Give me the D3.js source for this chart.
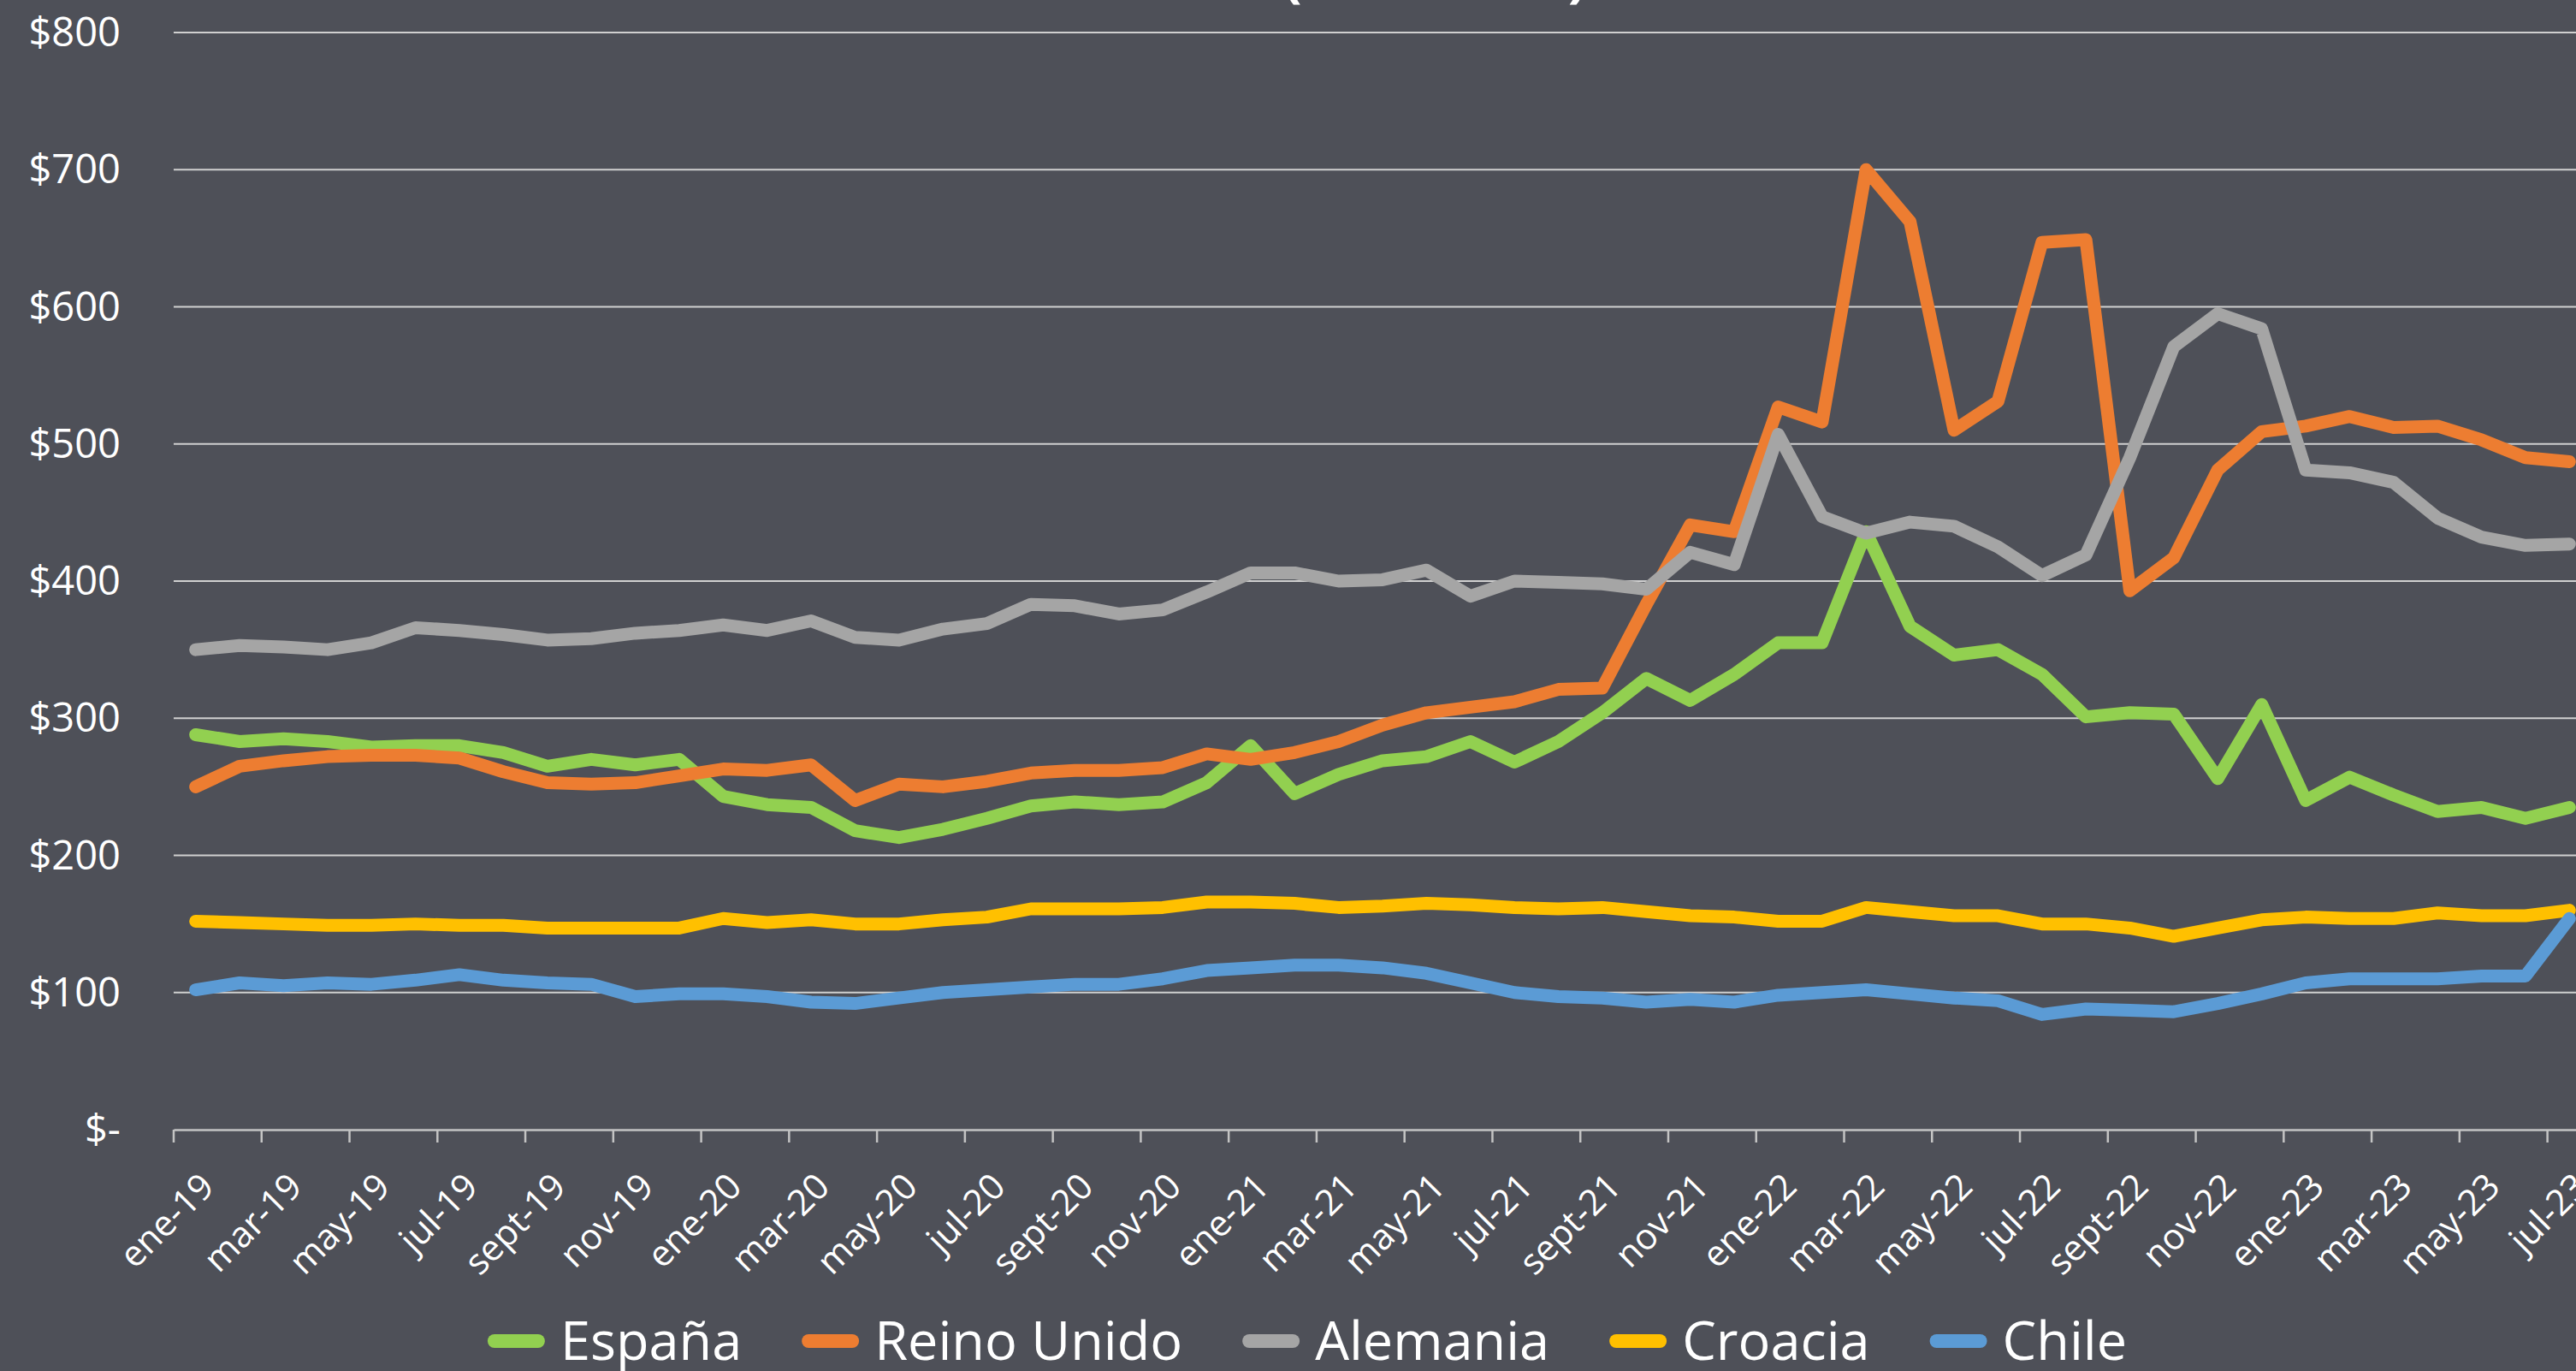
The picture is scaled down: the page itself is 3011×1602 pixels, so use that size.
<!DOCTYPE html>
<html>
<head>
<meta charset="utf-8">
<script src="https://cdn.jsdelivr.net/npm/d3@7"></script>
<style>
  body { margin: 0; background: #4e5058; overflow: hidden; }
  svg { display: block; font-family: "Open Sans", sans-serif; }
  .grid line { stroke: #d0d0d0; stroke-width: 2; }
  .y-label { fill: #fff; font-size: 47px; }
  .x-axis path, .x-axis line { stroke: #c4c4c4; stroke-width: 2.5; }
  .series { fill: none; stroke-width: 15; stroke-linecap: round; stroke-linejoin: round; }
  .legend text { fill: #fff; font-size: 63px; }
</style>
</head>
<body>
<svg id="chart"></svg>
<script>
// Month categories (ene-19 .. jul-23)
const monthNames = ['ene','feb','mar','abr','may','jun','jul','ago','sept','oct','nov','dic'];
const years = ['19','20','21','22','23'];
const months = years.flatMap(y => monthNames.map(m => `${m}-${y}`)).slice(0, 55);

const yTicks = [0, 100, 200, 300, 400, 500, 600, 700, 800];

// Series values (US$/MWh)
const espana = [288,283,285,283,279,280,280,275,265,270,266,270,
  243,237,235,218,213,219,227,236,239,237,239,253,
  280,245,259,269,272,283,268,283,304,329,313,332,
  355,355,436,367,346,350,332,301,304,303,256,310,
  240,257,244,232,235,227,235];
const reinoUnido = [250,265,269,272,273,273,271,261,253,252,253,258,
  263,262,266,240,252,250,254,260,262,262,264,274,
  270,275,283,295,304,308,312,321,322,383,441,436,
  527,516,700,662,510,531,647,649,393,417,481,509,
  513,520,512,513,503,490,487];
const alemania = [350,353,352,350,355,366,364,361,357,358,362,364,
  368,364,371,359,357,365,369,383,382,376,379,392,
  406,406,400,401,408,389,400,399,398,394,421,412,
  507,447,435,443,440,425,404,419,490,571,595,584,
  481,479,472,446,432,426,427];
const croacia = [152,151,150,149,149,150,149,149,147,147,147,147,
  154,151,153,150,150,153,155,161,161,161,162,166,
  166,165,162,163,165,164,162,161,162,159,156,155,
  152,152,162,159,156,156,150,150,147,141,147,153,
  155,154,154,158,156,156,160];
const chile = [102,107,105,107,106,109,113,109,107,106,97,99,
  99,97,93,92,96,100,102,104,106,106,110,116,
  118,120,120,118,114,107,100,97,96,93,95,93,
  98,100,102,99,96,94,84,88,87,86,92,99,
  107,110,110,110,112,112,154];

const seriesNames = ['España', 'Reino Unido', 'Alemania', 'Croacia', 'Chile'];
const seriesValues = [espana, reinoUnido, alemania, croacia, chile];
const seriesColors = ['#92d050', '#ed7d31', '#a5a5a5', '#ffc000', '#5b9bd5'];

const width = 3011, height = 1602;
const margin = {left: 203, top: 38, bottom: 282};
const plotRight = 3029;

const svg = d3.select('#chart')
    .attr('width', width)
    .attr('height', height);

// Title, cut off at the top of the picture
svg.append('text')
    .attr('x', 1500)
    .attr('y', -5)
    .attr('fill', '#fff')
    .style('font-size', '64px')
    .style('font-weight', 'bold')
    .text('(US$/MWh)');

const x = d3.scaleBand()
    .domain(months)
    .range([margin.left, plotRight])
    .padding(0);
const bw = x.bandwidth();

const y = d3.scaleLinear()
    .domain([0, 800])
    .range([height - margin.bottom, margin.top]);

// Gridlines
svg.append('g')
    .attr('class', 'grid')
  .selectAll('line')
    .data(yTicks.slice(1))
  .join('line')
    .attr('x1', margin.left)
    .attr('x2', plotRight)
    .attr('y1', d => y(d))
    .attr('y2', d => y(d));

// Y labels
svg.append('g')
  .selectAll('text')
    .data(yTicks)
  .join('text')
    .attr('class', 'y-label')
    .attr('x', 141)
    .attr('y', d => y(d) - 2)
    .attr('text-anchor', 'end')
    .attr('dominant-baseline', 'central')
    .text(d => d === 0 ? '$-' : `$${d}`);

// X axis: ticks at band edges every 2 months, labels rotated
const xAxis = d3.axisBottom(x)
    .tickValues(months.filter((d, i) => i % 2 === 0))
    .tickSizeInner(15)
    .tickSizeOuter(0);

const xAxisG = svg.append('g')
    .attr('class', 'x-axis')
    .attr('transform', `translate(0,${y(0)})`)
    .call(xAxis)
    .attr('font-size', null)
    .attr('font-family', null);

xAxisG.selectAll('.tick line')
    .attr('x1', -bw / 2)
    .attr('x2', -bw / 2);

xAxisG.selectAll('.tick text')
    .attr('y', null)
    .attr('dy', null)
    .attr('fill', '#fff')
    .style('font-size', '42px')
    .style('font-family', '"Open Sans", sans-serif')
    .attr('text-anchor', 'end')
    .attr('transform', 'translate(24,69) rotate(-45)');

// Lines
const line = d3.line()
    .x((d, i) => x(months[i]) + bw / 2)
    .y(d => y(d));

svg.append('g')
  .selectAll('path')
    .data(seriesValues)
  .join('path')
    .attr('class', 'series')
    .attr('stroke', (d, i) => seriesColors[i])
    .attr('d', line);

// Legend, laid out left to right and centred
const legend = svg.append('g').attr('class', 'legend');
const items = legend.selectAll('g')
    .data(seriesNames)
  .join('g');

items.append('line')
    .attr('x1', 8).attr('x2', 59)
    .attr('y1', 0).attr('y2', 0)
    .attr('stroke', (d, i) => seriesColors[i])
    .attr('stroke-width', 16)
    .attr('stroke-linecap', 'round');

items.append('text')
    .attr('x', 85)
    .attr('y', 22)
    .text(d => d);

let cursor = 0;
items.each(function() {
  const w = d3.select(this).select('text').node().getComputedTextLength();
  d3.select(this).attr('transform', `translate(${cursor},0)`);
  cursor += 85 + w + 70;
});
const legendWidth = cursor - 70;
legend.attr('transform', `translate(${1528 - legendWidth / 2},1567)`);
</script>
</body>
</html>
